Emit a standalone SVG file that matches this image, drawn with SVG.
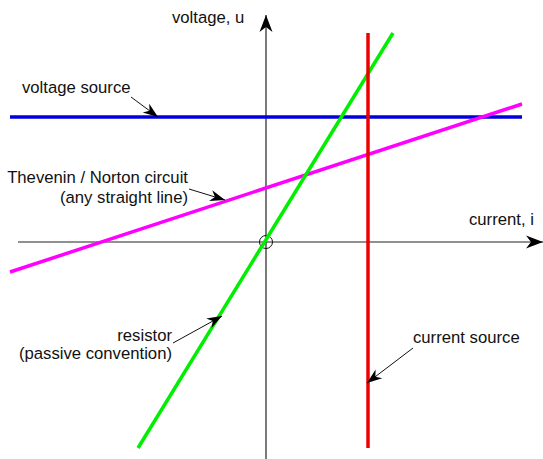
<svg xmlns="http://www.w3.org/2000/svg" width="543" height="459" viewBox="0 0 543 459">
<style>
text{font-family:"Liberation Sans",Arial,sans-serif;font-size:16.7px;fill:#111}
.axis{stroke:#222;stroke-width:1.2;fill:none}
.lead{stroke:#111;stroke-width:1;fill:none}
.curve{stroke-width:3.5;fill:none}
</style>
<defs>
<marker id="axhead" markerUnits="userSpaceOnUse" viewBox="-18 -8 20 16" refX="0" refY="0" markerWidth="20" markerHeight="16" orient="auto">
<path d="M0,0 L-17,-6.5 L-12,0 L-17,6.5 Z" fill="#000"/>
</marker>
<marker id="ldhead" markerUnits="userSpaceOnUse" viewBox="-16 -7 18 14" refX="0" refY="0" markerWidth="18" markerHeight="14" orient="auto">
<path d="M0,0 L-15,-5.5 L-10.5,0 L-15,5.5 Z" fill="#000"/>
</marker>
</defs>
<g id="axes">
<line class="axis" x1="266" y1="459" x2="266" y2="15" marker-end="url(#axhead)"/>
<line class="axis" x1="18" y1="242" x2="543" y2="242" marker-end="url(#axhead)"/>
<circle cx="266" cy="242" r="6.5" fill="none" stroke="#111" stroke-width="1"/>
<text x="172" y="23">voltage, u</text>
<text x="469" y="225">current, i</text>
</g>
<g id="voltage-source">
<line class="curve" x1="10" y1="117" x2="522" y2="117" stroke="#0000dd"/>
<text x="22" y="93">voltage source</text>
</g>
<g id="thevenin">
<line class="curve" x1="10" y1="272" x2="522" y2="104" stroke="#ff00ff"/>
<text x="188" y="183" text-anchor="end">Thevenin / Norton circuit</text>
<text x="188" y="203" text-anchor="end">(any straight line)</text>
</g>
<g id="resistor">
<line class="curve" x1="138" y1="448" x2="393" y2="33" stroke="#00ee00"/>
<text x="172" y="341" text-anchor="end">resistor</text>
<text x="172" y="359" text-anchor="end">(passive convention)</text>
</g>
<g id="current-source">
<line class="curve" x1="368" y1="33" x2="368" y2="448" stroke="#ee0000"/>
<text x="413" y="343">current source</text>
</g>
<g id="connectors">
<line class="lead" x1="131" y1="97" x2="158" y2="117" marker-end="url(#ldhead)"/>
<line class="lead" x1="189" y1="189" x2="225" y2="200" marker-end="url(#ldhead)"/>
<line class="lead" x1="173" y1="343" x2="222" y2="316" marker-end="url(#ldhead)"/>
<line class="lead" x1="413" y1="348" x2="367" y2="383" marker-end="url(#ldhead)"/>
</g>
</svg>
